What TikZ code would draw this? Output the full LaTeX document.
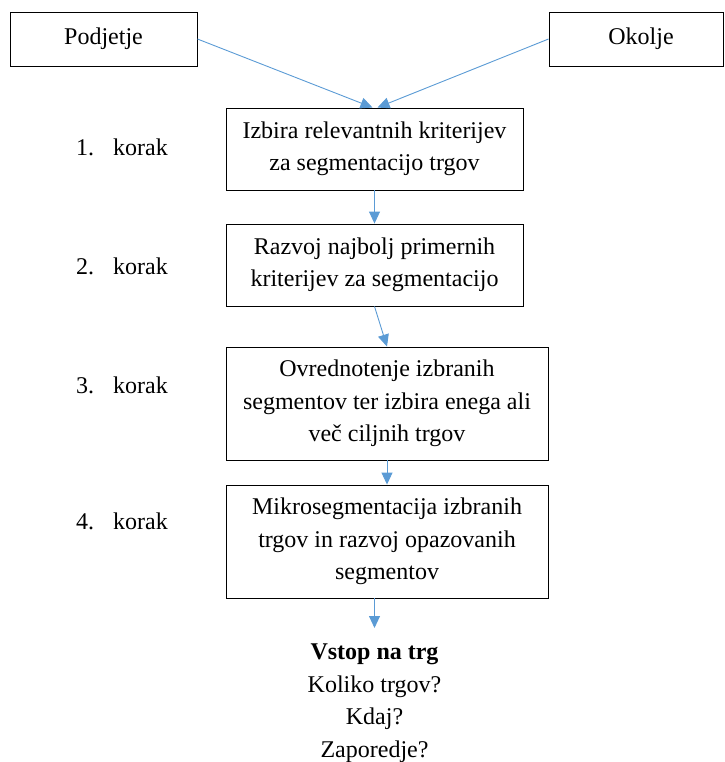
\documentclass[tikz,border=0pt]{standalone}
\usepackage{fontspec}
\setmainfont{Liberation Serif}
\usetikzlibrary{arrows.meta}
\definecolor{arrowblue}{HTML}{5B9BD5}
\tikzset{
  stepbox/.style={draw=black, line width=0.9pt, align=center, inner sep=0pt,
    font=\fontsize{24}{32.5}\selectfont},
  steplabel/.style={anchor=base west, inner sep=0pt, font=\fontsize{24}{32.5}\selectfont},
  conn/.style={draw=arrowblue, line width=0.9pt,
    -{Triangle[length=12pt,width=11pt]}, arrowblue}
}
\begin{document}
\begin{tikzpicture}[x=1pt,y=-1pt]
\useasboundingbox (0,0) rectangle (724,762);
\node[stepbox, minimum width=187pt, minimum height=54pt] (pod) at (103.5,39) {Podjetje};
\node[stepbox, minimum width=174pt, minimum height=54pt] (oko) at (636,39) {\hspace*{10pt}Okolje};
\node[stepbox, minimum width=297pt, minimum height=82pt] (b1) at (374.5,149)
  {Izbira relevantnih kriterijev\\za segmentacijo trgov};
\node[stepbox, minimum width=297pt, minimum height=82pt] (b2) at (374.5,265)
  {Razvoj najbolj primernih\\kriterijev za segmentacijo};
\node[stepbox, minimum width=322pt, minimum height=113pt] (b3) at (387,403.5)
  {Ovrednotenje izbranih\\segmentov ter izbira enega ali\\več ciljnih trgov};
\node[stepbox, minimum width=322pt, minimum height=113pt] (b4) at (387,541.5)
  {Mikrosegmentacija izbranih\\trgov in razvoj opazovanih\\segmentov};
\node[steplabel] (k1) at (76,156) {\makebox[37pt][l]{1.}korak};
\node[steplabel] (k2) at (76,274) {\makebox[37pt][l]{2.}korak};
\node[steplabel] (k3) at (76,393) {\makebox[37pt][l]{3.}korak};
\node[steplabel] (k4) at (76,529) {\makebox[37pt][l]{4.}korak};
\node[align=center, anchor=north, inner sep=0pt, font=\fontsize{24}{32.5}\selectfont] (entry) at (374.5,644)
  {\textbf{Vstop na trg}\\Koliko trgov?\\Kdaj?\\Zaporedje?};
\draw[conn] (pod.east) -- ([xshift=-2pt]b1.north);
\draw[conn] (oko.west) -- ([xshift=3pt]b1.north);
\draw[conn] (b1.south) -- (b2.north);
\draw[conn] (b2.south) -- (b3.north);
\draw[conn] (b3.south) -- (b4.north);
\draw[conn, shorten >=16pt] (b4.south -| entry.north) -- (entry.north);
\end{tikzpicture}
\end{document}
